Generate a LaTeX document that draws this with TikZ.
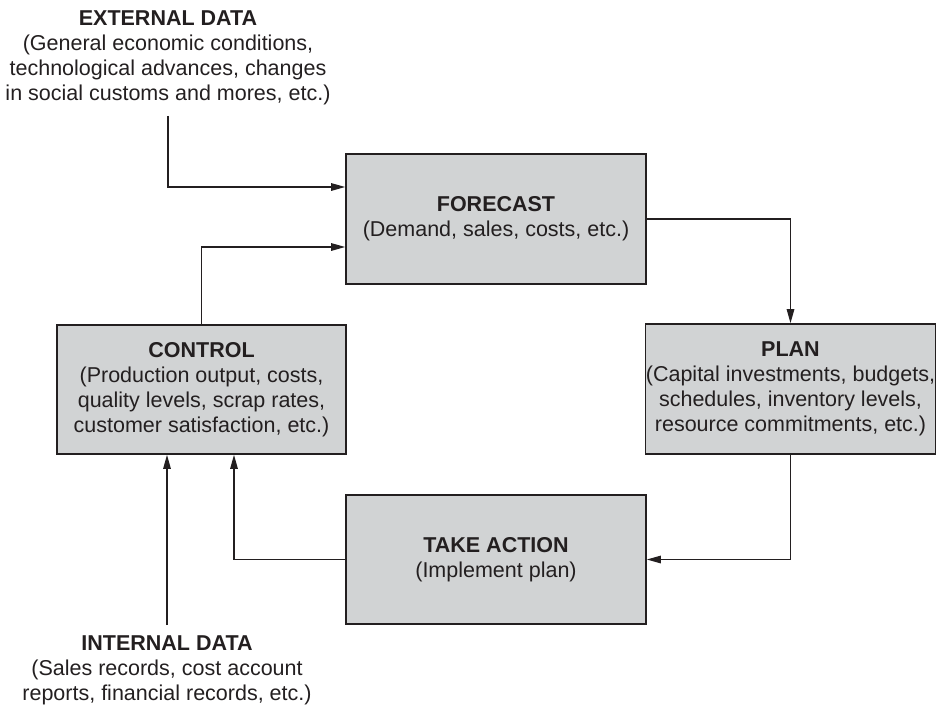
\documentclass[tikz,border=0pt]{standalone}
\usepackage{fontspec}
\setmainfont{Liberation Sans}
\usetikzlibrary{arrows.meta}
\definecolor{boxgray}{RGB}{209,211,212}
\definecolor{ink}{RGB}{35,31,32}

\begin{document}
\begin{tikzpicture}[x=1pt, y=-1pt, >={Triangle[length=14pt, width=7.5pt]},
                line width=1.3pt, color=ink, font=\fontsize{21.5}{25}\selectfont,
                box/.style={draw=ink, fill=boxgray, line width=1.6pt, align=center, inner sep=0pt},
                data/.style={align=center, inner xsep=0pt, inner ysep=10pt}]
                \useasboundingbox (0, 0) rectangle (937, 707);
                \node[box, minimum width=300, minimum height=130] (0) at (496, 219) {\textbf{FORECAST}\\(Demand, sales, costs, etc.)};
                \node[box, minimum width=290, minimum height=130] (1) at (790.5, 389) {\textbf{PLAN}\\(Capital investments, budgets,\\schedules, inventory levels,\\resource commitments, etc.)};
                \node[box, minimum width=300, minimum height=129] (2) at (496, 559.5) {\textbf{TAKE ACTION}\\(Implement plan)};
                \node[box, minimum width=289, minimum height=129] (3) at (201.5, 389.5) {\textbf{CONTROL}\\(Production output, costs,\\quality levels, scrap rates,\\customer satisfaction, etc.)};
                \node[data] (4) at (168, 58) {\textbf{EXTERNAL DATA}\\(General economic conditions,\\technological advances, changes\\in social customs and mores, etc.)};
                \node[data] (5) at (167, 670.5) {\textbf{INTERNAL DATA}\\(Sales records, cost account\\reports, financial records, etc.)};
                \draw[->] (4) |- ([yshift=32pt]0.west);
                \draw[->] (3) |- ([yshift=-28pt]0.west);
                \draw[->] (0) -| (1);
                \draw[->] (1) |- (2);
                \draw[->] (2) -| ([xshift=32.5pt]3.south);
                \draw[->] (5) -- (5 |- 3.south);
            \end{tikzpicture}
\end{document}
